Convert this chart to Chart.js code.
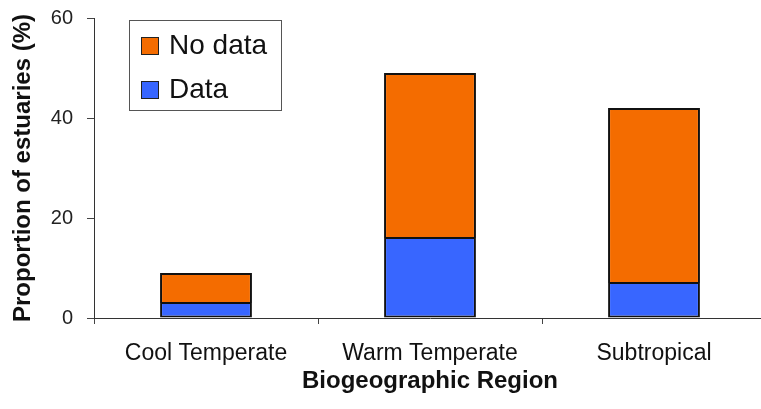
<!DOCTYPE html>
<html>
<head>
<meta charset="utf-8">
<script src="https://cdn.jsdelivr.net/npm/chart.js@4"></script>
<style>
  html, body { margin: 0; padding: 0; background: #fff; overflow: hidden; }
  #wrap { width: 770px; height: 409px; }
</style>
</head>
<body>
<div id="wrap"><canvas id="grafico" width="770" height="409"></canvas></div>
<script>
// Dados (proporção de estuários, %)
const regioes = ['Cool Temperate', 'Warm Temperate', 'Subtropical'];
const comDados = [3, 16, 7];
const semDados = [6, 33, 35];
const ticksY = [0, 20, 40, 60];

const FONTE = "'Liberation Sans', Arial, sans-serif";

// legenda desenhada dentro da área do gráfico, com moldura
const legendaCaixa = {
  id: 'legendaCaixa',
  afterDraw(chart) {
    const ctx = chart.ctx;
    const x0 = 129, y0 = 20, w = 152, h = 90;
    ctx.save();
    ctx.fillStyle = '#fff';
    ctx.fillRect(x0, y0, w, h);
    ctx.strokeStyle = '#555';
    ctx.lineWidth = 1;
    ctx.strokeRect(x0 + 0.5, y0 + 0.5, w, h);
    const itens = chart.data.datasets.slice().reverse();
    ctx.font = '28px ' + FONTE;
    ctx.textBaseline = 'middle';
    itens.forEach((ds, i) => {
      const cy = y0 + 26 + i * 44;
      ctx.fillStyle = ds.backgroundColor;
      ctx.fillRect(x0 + 12, cy - 9, 18, 18);
      ctx.strokeStyle = '#222';
      ctx.strokeRect(x0 + 12.5, cy - 8.5, 17, 17);
      ctx.fillStyle = '#111';
      ctx.fillText(ds.label, x0 + 40, cy);
    });
    ctx.restore();
  }
};

new Chart(document.getElementById('grafico').getContext('2d'), {
  type: 'bar',
  data: {
    labels: regioes,
    datasets: [
      {
        label: 'Data',
        data: comDados,
        backgroundColor: '#3866FF',
        borderColor: '#111',
        borderWidth: { top: 1, right: 2, bottom: 2, left: 2 },
        borderSkipped: false,
        barPercentage: 0.41,
        categoryPercentage: 1
      },
      {
        label: 'No data',
        data: semDados,
        backgroundColor: '#F46C00',
        borderColor: '#111',
        borderWidth: { top: 2, right: 2, bottom: 1, left: 2 },
        borderSkipped: false,
        barPercentage: 0.41,
        categoryPercentage: 1
      }
    ]
  },
  options: {
    responsive: false,
    animation: false,
    layout: { padding: { top: 18, right: 4, bottom: 13, left: 0 } },
    plugins: {
      legend: { display: false },
      tooltip: { enabled: false }
    },
    scales: {
      x: {
        stacked: true,
        afterFit(scale) { scale.height = 78; },
        grid: { drawOnChartArea: false, offset: true, tickLength: 6, color: '#444' },
        border: { color: '#333', width: 1 },
        ticks: { color: '#111', padding: 16, font: { family: FONTE, size: 23 } },
        title: {
          display: true,
          text: 'Biogeographic Region',
          color: '#111',
          padding: { top: 0, bottom: 0 },
          font: { family: FONTE, size: 24, weight: 'bold' }
        }
      },
      y: {
        stacked: true,
        min: 0,
        max: 60,
        afterBuildTicks(scale) {
          scale.ticks = ticksY.map(v => ({ value: v }));
        },
        afterFit(scale) {
          scale.width = 94;
          scale.paddingTop = 0;
          scale.paddingBottom = 0;
        },
        grid: { drawOnChartArea: false, tickLength: 7, color: '#444' },
        border: { color: '#333', width: 1 },
        ticks: { color: '#222', padding: 14, font: { family: FONTE, size: 20 } },
        title: {
          display: true,
          text: 'Proportion of estuaries (%)',
          color: '#111',
          padding: { top: 9, bottom: 0 },
          font: { family: FONTE, size: 24, weight: 'bold' }
        }
      }
    }
  },
  plugins: [legendaCaixa]
});
</script>
</body>
</html>
